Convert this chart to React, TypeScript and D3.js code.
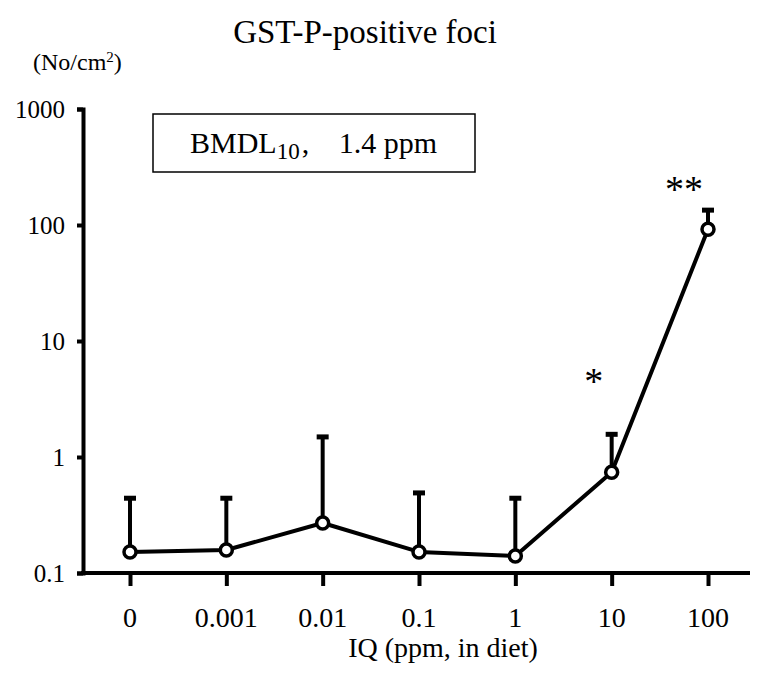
import React, { useRef, useEffect } from 'react';
import * as d3 from 'd3';

const doses = ['0', '0.001', '0.01', '0.1', '1', '10', '100'];
const means = [0.152, 0.158, 0.27, 0.152, 0.14, 0.74, 92];
const upper = [0.45, 0.45, 1.52, 0.5, 0.45, 1.6, 137];
const yTicks = [0.1, 1, 10, 100, 1000];
const marks = [
  { dose: '10', text: '*', value: 4.8, dx: -18 },
  { dose: '100', text: '**', value: 217, dx: -24 },
];

const FONT = '"Liberation Serif", "Times New Roman", serif';

const App = () => {
  const ref = useRef(null);

  useEffect(() => {
    const width = 768, height = 680;
    const svg = d3.select(ref.current);
    svg.selectAll('*').remove();
    svg.attr('width', width).attr('height', height);

    const x = d3.scalePoint().domain(doses).range([130, 708]);
    const y = d3.scaleLog().domain([0.1, 1000]).range([573, 109]);
    const axisLeft = 83;

    const data = doses.map((d, i) => ({ dose: d, mean: means[i], upper: upper[i] }));

    // title and unit
    svg.append('text')
      .attr('x', 365).attr('y', 43)
      .attr('text-anchor', 'middle')
      .style('font-family', FONT).style('font-size', '33px')
      .text('GST-P-positive foci');

    const unit = svg.append('text')
      .attr('x', 33).attr('y', 70)
      .style('font-family', FONT).style('font-size', '24px');
    unit.append('tspan').text('(No/cm');
    unit.append('tspan').attr('dy', -8).style('font-size', '15px').text('2');
    unit.append('tspan').attr('dy', 8).text(')');

    // y axis
    const gy = svg.append('g').attr('transform', `translate(${axisLeft},0)`)
      .call(d3.axisLeft(y).tickValues(yTicks).tickSizeOuter(0).tickSize(6).tickFormat(d3.format('~g')));
    gy.select('.domain').attr('stroke-width', 4).attr('stroke', '#000');
    gy.selectAll('.tick line').attr('stroke-width', 4);
    gy.selectAll('.tick text')
      .attr('x', -18)
      .style('font-family', FONT).style('font-size', '25px').attr('fill', '#000');

    // x axis
    const gx = svg.append('g').attr('transform', `translate(0,573)`)
      .call(d3.axisBottom(x).tickSize(13).tickSizeOuter(0));
    gx.select('.domain').remove();
    gx.selectAll('.tick line').attr('stroke-width', 4);
    gx.selectAll('.tick text').remove();
    svg.append('g').selectAll('text').data(doses).join('text')
      .attr('x', d => x(d)).attr('y', 627)
      .attr('text-anchor', 'middle')
      .attr('font-family', FONT).attr('font-size', 28)
      .text(d => d);
    svg.append('line')
      .attr('x1', axisLeft - 2).attr('x2', 750)
      .attr('y1', 573).attr('y2', 573)
      .attr('stroke', '#000').attr('stroke-width', 4);

    svg.append('text')
      .attr('x', 443).attr('y', 657)
      .attr('text-anchor', 'middle')
      .style('font-family', FONT).style('font-size', '28px')
      .text('IQ (ppm, in diet)');

    // BMDL box
    svg.append('rect')
      .attr('x', 153).attr('y', 114).attr('width', 322).attr('height', 58)
      .attr('fill', 'none').attr('stroke', '#000').attr('stroke-width', 1.5);
    const bt = svg.append('text')
      .attr('x', 190).attr('y', 153)
      .style('font-family', FONT).style('font-size', '30px');
    bt.append('tspan').text('BMDL');
    bt.append('tspan').attr('dy', 6).style('font-size', '23px').text('10');
    bt.append('tspan').attr('dy', -6).attr('dx', 2).text(',');
    svg.append('text')
      .attr('x', 437).attr('y', 153)
      .attr('text-anchor', 'end')
      .style('font-family', FONT).style('font-size', '30px')
      .text('1.4 ppm');

    // error bars
    const eb = svg.append('g').attr('stroke', '#000').attr('stroke-width', 4);
    eb.selectAll('line.v').data(data).join('line')
      .attr('x1', d => x(d.dose)).attr('x2', d => x(d.dose))
      .attr('y1', d => y(d.mean)).attr('y2', d => y(d.upper));
    eb.selectAll('line.c').data(data).join('line')
      .attr('x1', d => x(d.dose) - 6).attr('x2', d => x(d.dose) + 6)
      .attr('y1', d => y(d.upper) + 1).attr('y2', d => y(d.upper) + 1)
      .attr('stroke-width', 5);

    // line
    const line = d3.line().x(d => x(d.dose)).y(d => y(d.mean));
    svg.append('path')
      .datum(data)
      .attr('d', line)
      .attr('fill', 'none').attr('stroke', '#000').attr('stroke-width', 4)
      .attr('stroke-linejoin', 'round');

    svg.selectAll('circle').data(data).join('circle')
      .attr('cx', d => x(d.dose)).attr('cy', d => y(d.mean))
      .attr('r', 6)
      .attr('fill', '#fff').attr('stroke', '#000').attr('stroke-width', 3.5);

    // significance marks
    svg.selectAll('text.sig').data(marks).join('text')
      .attr('class', 'sig')
      .attr('x', d => x(d.dose) + d.dx)
      .attr('y', d => y(d.value) + 16)
      .attr('text-anchor', 'middle')
      .style('font-family', FONT).style('font-size', '38px')
      .text(d => d.text);
  }, []);

  return (
    <svg ref={ref} style={{ position: 'absolute', left: 0, top: 0, background: '#fff' }} />
  );
};

export default App;
